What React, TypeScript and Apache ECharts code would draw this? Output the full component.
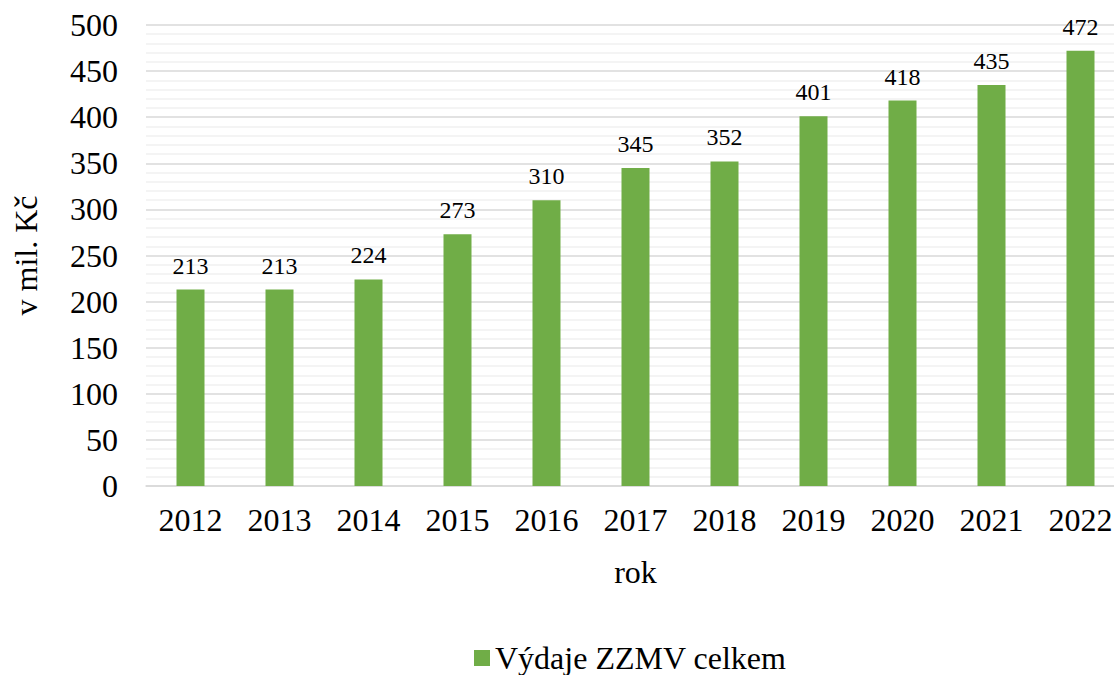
import React, { useEffect, useRef } from "react";
import * as echarts from "echarts";

const categories = ["2012", "2013", "2014", "2015", "2016", "2017", "2018", "2019", "2020", "2021", "2022"];
const values = [213, 213, 224, 273, 310, 345, 352, 401, 418, 435, 472];
const seriesName = "Výdaje ZZMV celkem";
const yTitle = "v mil. Kč";
const xTitle = "rok";

export default function App() {
  const ref = useRef<HTMLDivElement>(null);
  useEffect(() => {
    if (!ref.current) return;
    const chart = echarts.init(ref.current, null, { renderer: "svg" });
    const font = "'Liberation Serif', 'Times New Roman', serif";
    chart.setOption({
      animation: false,
      textStyle: { fontFamily: font },
      legend: {
        bottom: -4,
        left: 469,
        itemWidth: 16,
        itemHeight: 16,
        itemGap: 10,
        icon: "rect",
        textStyle: { fontFamily: font, fontSize: 32, color: "#000" },
        data: [seriesName],
      },
      grid: { left: 146, right: -11, top: 25, bottom: 189, containLabel: false, outerBoundsMode: "none" },
      xAxis: {
        type: "category",
        data: categories,
        name: xTitle,
        nameLocation: "middle",
        nameGap: 70,
        nameTextStyle: { fontFamily: font, fontSize: 32, color: "#000" },
        axisLine: { lineStyle: { color: "#d9d9d9", width: 1.5 } },
        axisTick: { show: false },
        axisLabel: { fontFamily: font, fontSize: 32, color: "#000", margin: 18 },
      },
      yAxis: {
        type: "value",
        min: 0,
        max: 500,
        interval: 50,
        name: yTitle,
        nameLocation: "middle",
        nameGap: 104,
        nameRotate: 90,
        nameTextStyle: { fontFamily: font, fontSize: 32, color: "#000" },
        axisLine: { show: false },
        axisTick: { show: false },
        axisLabel: { fontFamily: font, fontSize: 32, color: "#000", margin: 28 },
        splitLine: { lineStyle: { color: "#d9d9d9", width: 1.5 } },
        minorTick: { show: false, splitNumber: 5 },
        minorSplitLine: { show: true, lineStyle: { color: "#f0f0f0", width: 1.5 } },
      },
      series: [
        {
          name: seriesName,
          type: "bar",
          data: values,
          barWidth: 28,
          itemStyle: { color: "#70ad47" },
          label: {
            show: true,
            position: "top",
            distance: 12,
            fontFamily: font,
            fontSize: 24,
            color: "#000",
          },
        },
      ],
    });
    return () => chart.dispose();
  }, []);
  return <div ref={ref} style={{ position: "fixed", left: 0, top: 0, width: 1114, height: 675, background: "#fff" }} />;
}
